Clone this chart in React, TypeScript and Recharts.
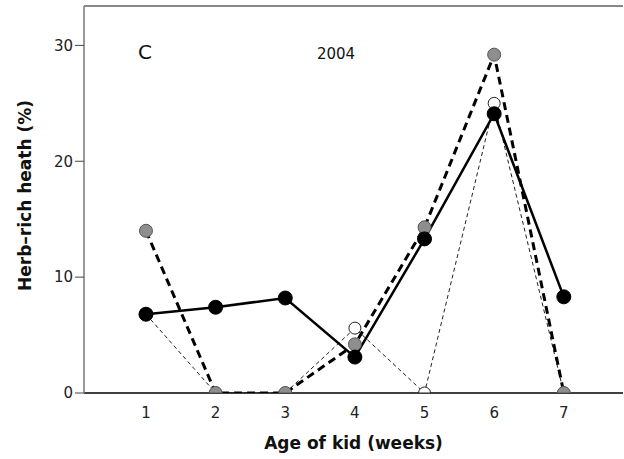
import { LineChart, Line, XAxis, YAxis, ReferenceLine } from "recharts"

// weeks of age and the three series
const weeks = [1, 2, 3, 4, 5, 6, 7]
const solidSeries = [6.8, 7.4, 8.2, 3.1, 13.3, 24.1, 8.3]
const greySeries = [14.0, 0, 0, 4.2, 14.3, 29.2, 0]
const openSeries = [6.8, 0, 0, 5.6, 0, 25.0, 0]
const xTicks = [1, 2, 3, 4, 5, 6, 7]
const yTicks = [0, 10, 20, 30]

const data = weeks.map((w, i) => ({
  week: w,
  solid: solidSeries[i],
  grey: greySeries[i],
  open: openSeries[i],
}))

const font = "'DejaVu Sans', sans-serif"

// dots sitting on the x axis are cut in half by the frame, like the original
function makeDot(dataKey: string, r: number, fill: string, stroke: string) {
  return (props: any) => {
    const { cx, cy, payload, index } = props
    if (cx == null || cy == null) return <g key={`${dataKey}-${index}`} />
    const v = payload ? payload[dataKey] : undefined
    if (v === 0) {
      return (
        <path
          key={`${dataKey}-${index}`}
          d={`M${cx - r},${cy} A${r},${r} 0 0 1 ${cx + r},${cy} Z`}
          fill={fill}
          stroke={stroke}
          strokeWidth={1}
        />
      )
    }
    return <circle key={`${dataKey}-${index}`} cx={cx} cy={cy} r={r} fill={fill} stroke={stroke} strokeWidth={1} />
  }
}

export default function App() {
  return (
    <div style={{ position: "absolute", left: 0, top: 0, background: "#fff" }}>
      <LineChart width={624} height={459} data={data} margin={{ top: 6, right: 1, left: 0, bottom: 0 }}>
        <XAxis
          dataKey="week"
          type="number"
          domain={[0.11, 7.85]}
          ticks={xTicks}
          allowDataOverflow
          axisLine={{ stroke: "#000", strokeWidth: 1.5 }}
          tickLine={false}
          tick={{ fill: "#222", fontSize: 15, fontFamily: font }}
          tickMargin={8}
          height={66}
          label={{
            value: "Age of kid (weeks)",
            position: "insideBottom",
            offset: 10,
            style: { fill: "#111", fontSize: 17, fontWeight: "bold", fontFamily: font },
          }}
        />
        <YAxis
          type="number"
          domain={[0, 33.4]}
          ticks={yTicks}
          allowDataOverflow
          width={84}
          axisLine={{ stroke: "#777", strokeWidth: 1.5 }}
          tickLine={{ stroke: "#444" }}
          tickSize={9}
          tick={{ fill: "#222", fontSize: 15, fontFamily: font }}
          label={{
            value: "Herb\u2013rich heath (%)",
            angle: -90,
            position: "insideLeft",
            offset: 25,
            dy: -4,
            style: { fill: "#111", fontSize: 17, fontWeight: "bold", fontFamily: font, textAnchor: "middle" },
          }}
        />
        <ReferenceLine y={33.4} stroke="#888" strokeWidth={2} ifOverflow="visible" />
        <Line
          dataKey="open"
          stroke="#222"
          strokeWidth={1}
          strokeDasharray="4 3"
          dot={makeDot("open", 6, "#fff", "#222")}
          isAnimationActive={false}
        />
        <Line
          dataKey="grey"
          stroke="#000"
          strokeWidth={3}
          strokeDasharray="8 5"
          dot={makeDot("grey", 6.5, "#8e8e8e", "#555")}
          isAnimationActive={false}
        />
        <Line
          dataKey="solid"
          stroke="#000"
          strokeWidth={2.5}
          dot={makeDot("solid", 7, "#000", "#000")}
          isAnimationActive={false}
        />
        <text x={145} y={59} textAnchor="middle" fontSize={20} fontFamily={font} fill="#111">
          C
        </text>
        <text x={336} y={59} textAnchor="middle" fontSize={15} fontFamily={font} fill="#111">
          2004
        </text>
      </LineChart>
    </div>
  )
}
